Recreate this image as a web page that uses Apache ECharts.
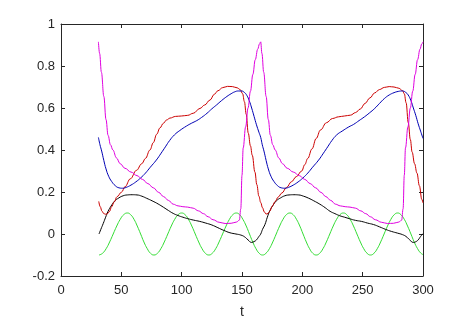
<!DOCTYPE html>
<html>
<head>
<meta charset="utf-8">
<script src="https://cdn.jsdelivr.net/npm/echarts@6/dist/echarts.min.js"></script>
<style>html,body{margin:0;padding:0;background:#fff;}#c{width:468px;height:321px;}</style>
</head>
<body>
<div id="c"></div>
<script>
const xTicks = [0, 50, 100, 150, 200, 250, 300];
const yTicks = [-0.2, 0, 0.2, 0.4, 0.6, 0.8, 1];
const xLabel = 't';

const magenta = [
 [31,0.915],[32,0.86],[33.5,0.77],[35.5,0.655],[37.3,0.545],[39,0.47],[41,0.425],[43,0.4],[46,0.362],[49,0.335],[53,0.313],[58,0.295],[63,0.278],[67.5,0.26],[72,0.24],[76.5,0.22],[81,0.198],[85,0.178],[89,0.16],[93,0.142],[97,0.134],[101,0.13],[105,0.128],[109.5,0.123],[114,0.11],[118,0.097],[122,0.082],[126,0.068],[131,0.056],[136,0.05],[141,0.051],[145.5,0.057],[147.8,0.066],[149,0.12],[150,0.28],[151,0.41],[153,0.51],[155,0.6],[157,0.68],[159,0.76],[161,0.83],[163,0.88],[164.5,0.905],[165.5,0.915],
 [166.5,0.86],[168,0.77],[170,0.655],[171.8,0.545],[173.5,0.47],[175.5,0.425],[177.5,0.4],[180.5,0.362],[183.5,0.335],[187.5,0.313],[192.5,0.295],[197.5,0.278],[202,0.26],[206.5,0.24],[211,0.22],[215.5,0.198],[219.5,0.178],[223.5,0.16],[227.5,0.142],[231.5,0.134],[235.5,0.13],[239.5,0.128],[244,0.123],[248.5,0.11],[252.5,0.097],[256.5,0.082],[260.5,0.068],[265.5,0.056],[270.5,0.05],[275.5,0.051],[280,0.057],[282.3,0.066],[283.5,0.12],[284.5,0.28],[285.5,0.41],[287.5,0.51],[289.5,0.6],[291.5,0.68],[293.5,0.76],[295.5,0.83],[297.5,0.88],[299,0.905],[300,0.915]
];

const blue = [
 [31,0.46],[32.3,0.425],[33.7,0.395],[35.5,0.35],[37.3,0.31],[39.5,0.275],[42,0.25],[45,0.23],[48,0.22],[51,0.218],[54,0.222],[58,0.233],[62,0.248],[66,0.267],[70,0.29],[74,0.318],[79,0.352],[83,0.385],[86.5,0.415],[90,0.445],[94,0.472],[98.5,0.493],[104,0.514],[108,0.527],[112.5,0.54],[116.5,0.555],[121,0.575],[125,0.596],[129,0.615],[133,0.635],[137.5,0.655],[141,0.668],[144,0.677],[147,0.681],[149.5,0.681],[152,0.674],[154,0.66],[156,0.635],[158,0.6],[160,0.56],[162,0.52],[164,0.485],[165.5,0.46],
 [166.8,0.425],[168.2,0.395],[170,0.35],[171.8,0.31],[174,0.275],[176.5,0.25],[179.5,0.23],[182.5,0.22],[185.5,0.218],[188.5,0.222],[192.5,0.233],[196.5,0.248],[200.5,0.267],[204.5,0.29],[208.5,0.318],[213.5,0.352],[217.5,0.385],[221,0.415],[224.5,0.445],[228.5,0.472],[233,0.49],[238.5,0.51],[242.5,0.522],[247,0.54],[251.5,0.558],[255.5,0.576],[260,0.598],[264,0.622],[268,0.645],[272,0.662],[276,0.673],[279.5,0.679],[283,0.681],[285.5,0.675],[287.7,0.662],[290,0.635],[292,0.6],[294,0.565],[296,0.525],[298,0.49],[300,0.455]
];

const red = [
 [31.3,0.155],[32.5,0.13],[34,0.108],[35.5,0.097],[37,0.094],[38.5,0.097],[40,0.106],[42,0.13],[44,0.152],[46.5,0.178],[50.3,0.2],[53,0.225],[57.5,0.263],[62.5,0.303],[67,0.335],[70,0.36],[73.7,0.4],[76.5,0.435],[79.3,0.475],[82,0.505],[84.8,0.527],[87.5,0.543],[90.3,0.552],[95,0.56],[100,0.562],[105,0.565],[109.6,0.575],[115.2,0.598],[119,0.614],[123.5,0.638],[127,0.665],[130,0.682],[134,0.697],[138,0.703],[142,0.702],[146,0.696],[148.5,0.688],[150.5,0.668],[152,0.63],[153.5,0.57],[155.2,0.48],[157,0.42],[158.5,0.375],[160.7,0.295],[162.3,0.235],[164,0.18],[165.5,0.15],
 [167,0.125],[168.5,0.105],[170,0.095],[171.5,0.098],[173,0.108],[175,0.132],[177.5,0.155],[180,0.176],[183,0.195],[187,0.222],[191,0.249],[195,0.273],[199.5,0.3],[202,0.33],[204.5,0.36],[208,0.405],[211.5,0.455],[215,0.495],[220,0.53],[225,0.55],[230,0.558],[235,0.562],[240,0.566],[244,0.578],[248,0.595],[252,0.622],[256,0.648],[260,0.672],[264,0.688],[268,0.698],[272,0.702],[276,0.7],[280,0.694],[283,0.683],[284.5,0.668],[286,0.625],[287.8,0.53],[289.5,0.45],[291,0.39],[293,0.335],[295,0.29],[297,0.23],[299,0.165],[300,0.148]
];

const black = [
 [31.5,0.0],[33,0.022],[35,0.05],[37,0.08],[39,0.108],[41.5,0.133],[44.5,0.157],[48,0.172],[51.5,0.182],[55,0.186],[59,0.187],[63,0.186],[67,0.18],[71,0.17],[75.5,0.158],[80.5,0.143],[85,0.127],[89,0.112],[93,0.098],[97,0.088],[101,0.08],[105,0.073],[110,0.066],[115,0.06],[120,0.052],[125,0.043],[130,0.03],[135,0.017],[140,0.006],[145,0.0],[149,-0.005],[152,-0.013],[155,-0.028],[158,-0.04],[160,-0.036],[162,-0.028],[164,-0.012],[165.5,0.0],
 [167,0.022],[169,0.045],[171,0.08],[173,0.11],[175.5,0.135],[178.5,0.158],[182,0.172],[185.5,0.182],[189,0.186],[193,0.187],[197,0.186],[201,0.18],[205,0.171],[209.5,0.158],[214.5,0.142],[219,0.125],[223,0.108],[227,0.097],[231,0.087],[235,0.08],[239,0.073],[244,0.065],[249,0.06],[254,0.052],[259,0.045],[264,0.034],[269,0.022],[274,0.012],[279,0.004],[283,-0.003],[286,-0.012],[289,-0.028],[292,-0.04],[294,-0.037],[296,-0.028],[298,-0.012],[300,0.002]
];

const green = [
 [31.5,-0.1],[34.4,-0.092],[37.4,-0.07],[40.3,-0.038],[43.25,0],[46.2,0.038],[49.1,0.07],[52,0.092],[55,0.1],[57.7,0.092],[60.5,0.07],[63.2,0.038],[66,0],[68.7,-0.038],[71.5,-0.07],[74.2,-0.092],[77,-0.1],[79.9,-0.092],[82.75,-0.07],[85.6,-0.038],[88.5,0],[91.4,0.038],[94.25,0.07],[97.1,0.092],[100,0.1],[102.8,0.092],[105.6,0.07],[108.4,0.038],[111.25,0],[114.1,-0.038],[116.9,-0.07],[119.7,-0.092],[122.5,-0.1],[125.3,-0.092],[128.2,-0.07],[131,-0.038],[133.9,0],[136.8,0.038],[139.6,0.07],[142.4,0.092],[145.3,0.1],[148,0.092],[150.7,0.07],[153.5,0.038],[156.2,0],[158.9,-0.038],[161.6,-0.07],[164.3,-0.092],[167,-0.1],[169.8,-0.092],[172.7,-0.07],[175.5,-0.038],[178.35,0],[181.2,0.038],[184,0.07],[186.8,0.092],[189.7,0.1],[192.4,0.092],[195.15,0.07],[197.9,0.038],[200.6,0],[203.3,-0.038],[206,-0.07],[208.7,-0.092],[211.5,-0.1],[214.3,-0.092],[217.1,-0.07],[219.9,-0.038],[222.75,0],[225.6,0.038],[228.4,0.07],[231.2,0.092],[234,0.1],[236.8,0.092],[239.6,0.07],[242.4,0.038],[245.25,0],[248.1,-0.038],[250.9,-0.07],[253.7,-0.092],[256.5,-0.1],[259.3,-0.092],[262.1,-0.07],[264.9,-0.038],[267.75,0],[270.6,0.038],[273.4,0.07],[276.2,0.092],[279,0.1],[281.7,0.092],[284.5,0.07],[287.2,0.038],[290,0],[292.7,-0.038],[295.5,-0.07],[298,-0.09],[300,-0.098]
];

const axisColor = '#262626';
const font = 'Liberation Sans, Arial, sans-serif';

function xAx(pos, labels) {
  return {
    type: 'value', position: pos, min: xTicks[0], max: xTicks[xTicks.length-1], interval: 50,
    axisLine: {show: true, onZero: false, lineStyle: {color: axisColor, width: 1}},
    axisTick: {show: true, inside: true, length: 4, lineStyle: {color: axisColor}},
    axisLabel: {show: labels, color: axisColor, fontSize: 13, fontFamily: font, margin: 8},
    splitLine: {show: false},
    name: labels ? xLabel : '', nameLocation: 'middle', nameGap: 29,
    nameTextStyle: {color: axisColor, fontSize: 14, fontFamily: font}
  };
}
function yAx(pos, labels) {
  return {
    type: 'value', position: pos, min: yTicks[0], max: yTicks[yTicks.length-1], interval: 0.2,
    axisLine: {show: true, onZero: false, lineStyle: {color: axisColor, width: 1}},
    axisTick: {show: true, inside: true, length: 4, lineStyle: {color: axisColor}},
    axisLabel: {show: labels, color: axisColor, fontSize: 13, fontFamily: font, margin: 6},
    splitLine: {show: false}
  };
}
function ser(data, color, sm, mono) {
  const s = {type: 'line', data: data, showSymbol: false, smooth: sm,
    lineStyle: {color: color, width: 1}, itemStyle: {color: color}, xAxisIndex: 0, yAxisIndex: 0};
  if (mono) s.smoothMonotone = 'x';
  return s;
}

const chart = echarts.init(document.getElementById('c'), null, {renderer: 'canvas'});
chart.setOption({
  animation: false,
  backgroundColor: '#fff',
  grid: {left: 61, right: 45, top: 24, bottom: 45, containLabel: false, outerBoundsMode: 'none'},
  xAxis: [xAx('bottom', true), xAx('top', false)],
  yAxis: [yAx('left', true), yAx('right', false)],
  series: [
    ser(green, '#33dd33', 0.5, false),
    ser(black, '#000000', 0.5, false),
    ser(red, '#cc0000', 0.4, true),
    ser(blue, '#0000b4', 0.5, false),
    ser(magenta, '#e000e0', 0.4, true)
  ]
});
</script>
</body>
</html>
